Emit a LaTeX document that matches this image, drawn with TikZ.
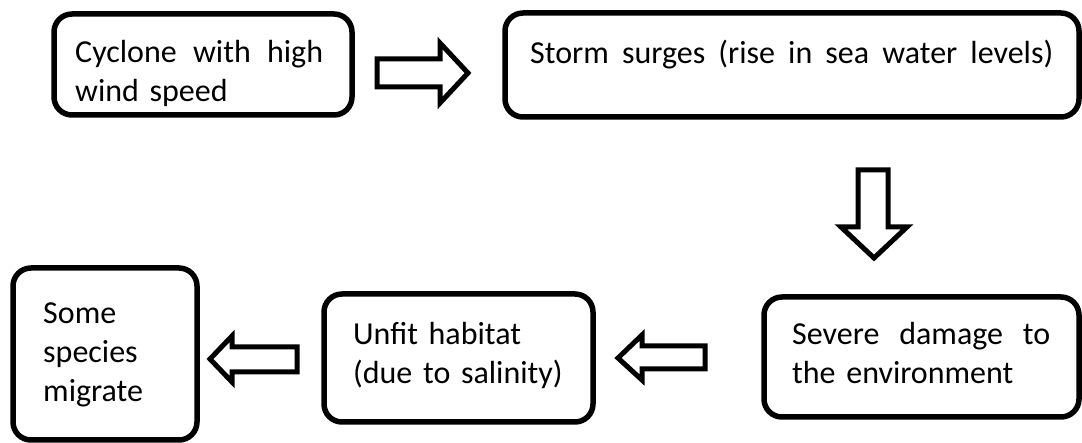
\documentclass[tikz,border=0pt]{standalone}
\usepackage{fontspec}
\setmainfont{Carlito}
\begin{document}
\begin{tikzpicture}[x=1pt,y=-1pt,
  box/.style={draw, line width=5.5pt, rounded corners=18pt, inner sep=0pt},
  txt/.style={anchor=base west, inner sep=0pt, text width=#1, align=left, font=\fontsize{32}{39}\selectfont},
  blk/.style={draw, line width=5pt, line join=miter, fill=white}]
\useasboundingbox (0,0) rectangle (1082,443);
% boxes
\node[box, minimum width=298pt, minimum height=101pt] (b1) at (203,64.5) {};
\node[box, minimum width=574pt, minimum height=104pt] (b2) at (792,65) {};
\node[box, minimum width=315pt, minimum height=120pt] (b3) at (921.5,357) {};
\node[box, minimum width=269pt, minimum height=128pt] (b4) at (458.5,358) {};
\node[box, minimum width=184pt, minimum height=172pt] (b5) at (105,354) {};
% texts
\node[txt=250pt] (t1) at (75,63) {\hbox to 248pt{Cyclone\hfill with\hfill high}\\wind speed};
\node[txt=530pt] (t2) at (530,64) {\hbox to 523pt{Storm\hfill surges\hfill (rise\hfill in\hfill sea\hfill water\hfill levels)}};
\node[txt=260pt] (t3) at (792,345) {\hbox to 258pt{Severe\hfill damage\hfill to}\\the environment};
\node[txt=230pt] (t4) at (353,345) {Unfit habitat\\(due to salinity)};
\node[txt=140pt] (t5) at (43,324) {Some\\species\\migrate};
% block arrows
\draw[blk] (377,59) -- (440,59) -- (440,43) -- (468,73) -- (440,103) -- (440,87) -- (377,87) -- cycle;
\draw[blk] (858,170) -- (858,227) -- (841,227) -- (874,258) -- (907,227) -- (888,227) -- (888,170) -- cycle;
\draw[blk] (705,346) -- (642,346) -- (642,335) -- (618,358) -- (642,380) -- (642,369) -- (705,369) -- cycle;
\draw[blk] (297,347) -- (232,347) -- (232,336) -- (210,359) -- (232,382) -- (232,372) -- (297,372) -- cycle;
\end{tikzpicture}
\end{document}
